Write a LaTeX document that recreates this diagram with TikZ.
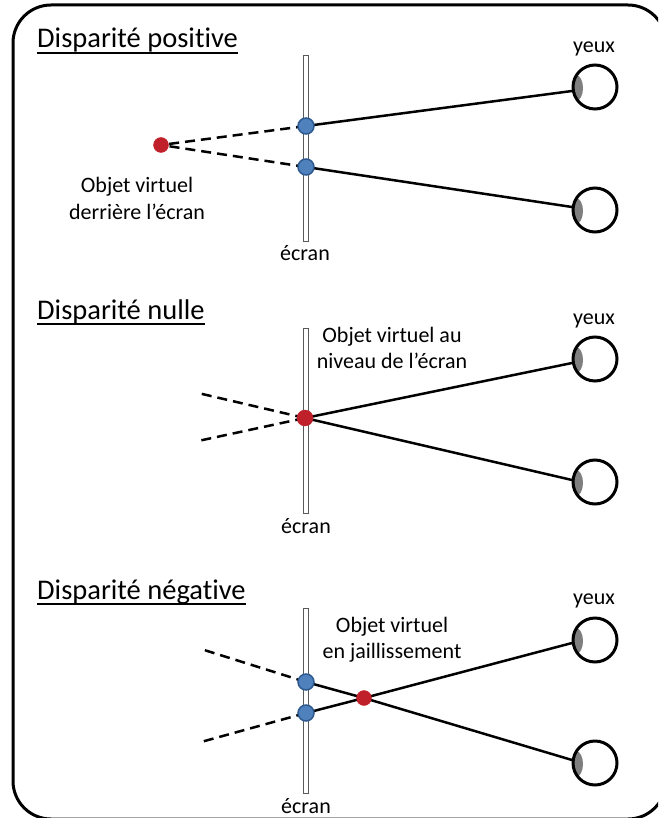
\documentclass[tikz,border=0pt]{standalone}
\usepackage{fontspec}
\setmainfont{Carlito}[Ligatures=NoCommon]
\definecolor{dotblue}{HTML}{4F81BD}
\definecolor{dotblueedge}{HTML}{2F5A8F}
\definecolor{dotred}{HTML}{C0202A}
\definecolor{irisgray}{HTML}{7F7F7F}
\newcommand\drawEye[3]{%
  \begin{scope}
    \clip (#2,#3) circle (22);
    \fill[irisgray] (#2-19,#3+1) ellipse (7 and 13);
  \end{scope}
  \node[eyeball] (#1) at (#2,#3) {};
}
\begin{document}
\begin{tikzpicture}[x=1pt,y=-1pt,
  titletext/.style={font=\fontsize{28.5}{34}\selectfont, anchor=base west, inner sep=0pt},
  lbl/.style={font=\fontsize{22}{26}\selectfont, anchor=base, inner sep=0pt, align=center},
  uline/.style={line width=1.5pt},
  ray/.style={line width=2.5pt},
  ext/.style={line width=2.5pt, dash pattern=on 10pt off 6pt},
  eyeball/.style={circle, draw, line width=3pt, minimum size=44pt, inner sep=0pt},
  screenbar/.style={rectangle, draw=gray!70!black, fill=white, line width=1pt, minimum width=5pt, minimum height=185pt, inner sep=0pt},
  bluedot/.style={circle, fill=dotblue, draw=dotblueedge, line width=1.5pt, minimum size=16pt, inner sep=0pt},
  reddot/.style={circle, fill=dotred, draw=dotred, minimum size=15pt, inner sep=0pt},
  frame/.style={line width=3pt, rounded corners=38pt}
]
\useasboundingbox (0,0) rectangle (658,818);
\clip (0,0) rectangle (658,818);
\draw[frame] (13,5) rectangle (666,819);

% ---------- Section 1: positive disparity ----------
\node[titletext] (t1) at (37,48) {Disparité positive};
\draw[uline] ([yshift=-5pt]t1.base west) -- ([yshift=-5pt]t1.base east);
\node[lbl] (y1) at (594,53) {yeux};
\node[screenbar] (sc1) at (305.5,148.5) {};
\node[lbl] (ec1) at (305,260) {écran};
\node[lbl] (ob1) at (137,219) {Objet virtuel\\derrière l’écran};
\drawEye{e1u}{595}{87}
\drawEye{e1l}{595}{210}
\coordinate (s1u) at (572,91);
\coordinate (s1l) at (572,207);
\coordinate (b1uc) at (306,126);
\coordinate (b1lc) at (306,167);
\coordinate (r1c) at (161,145);
\draw[ray] (s1u) -- (b1uc);
\draw[ray] (s1l) -- (b1lc);
\draw[ext] (b1uc) -- (r1c);
\draw[ext] (b1lc) -- (r1c);
\node[bluedot] (b1u) at (b1uc) {};
\node[bluedot] (b1l) at (b1lc) {};
\node[reddot] (r1) at (r1c) {};

% ---------- Section 2: zero disparity ----------
\node[titletext] (t2) at (37,319) {Disparité nulle};
\draw[uline] ([yshift=-5pt]t2.base west) -- ([yshift=-5pt]t2.base east);
\node[lbl] (y2) at (594,324) {yeux};
\node[screenbar] (sc2) at (305.5,420.5) {};
\node[lbl] (ec2) at (306,533) {écran};
\node[lbl] (ob2) at (392,368) {Objet virtuel au\\niveau de l’écran};
\drawEye{e2u}{595}{359}
\drawEye{e2l}{595}{482}
\coordinate (s2u) at (572,363);
\coordinate (s2l) at (572,480);
\coordinate (r2c) at (305,418);
\coordinate (d2u) at (198,393);
\coordinate (d2l) at (198,441);
\draw[ray] (s2u) -- (r2c);
\draw[ray] (s2l) -- (r2c);
\draw[ext] (r2c) -- (d2l);
\draw[ext] (r2c) -- (d2u);
\node[reddot, minimum size=16pt] (r2) at (r2c) {};

% ---------- Section 3: negative disparity ----------
\node[titletext] (t3) at (37,599) {Disparité négative};
\draw[uline] ([yshift=-5pt]t3.base west) -- ([yshift=-5pt]t3.base east);
\node[lbl] (y3) at (594,604) {yeux};
\node[screenbar] (sc3) at (305.5,701) {};
\node[lbl] (ec3) at (306,813) {écran};
\node[lbl] (ob3) at (392,658) {Objet virtuel\\en jaillissement};
\drawEye{e3u}{595}{640}
\drawEye{e3l}{595}{763}
\coordinate (s3u) at (572,643);
\coordinate (s3l) at (572,760);
\coordinate (r3c) at (364,698);
\coordinate (b3uc) at (306,682);
\coordinate (b3lc) at (306,713);
\coordinate (d3u) at (201,649);
\coordinate (d3l) at (201,742);
\draw[ray] (s3l) -- (r3c) -- (b3uc);
\draw[ray] (s3u) -- (r3c) -- (b3lc);
\draw[ext] (b3uc) -- (d3u);
\draw[ext] (b3lc) -- (d3l);
\node[bluedot] (b3u) at (b3uc) {};
\node[bluedot] (b3l) at (b3lc) {};
\node[reddot] (r3) at (r3c) {};
\end{tikzpicture}
\end{document}
